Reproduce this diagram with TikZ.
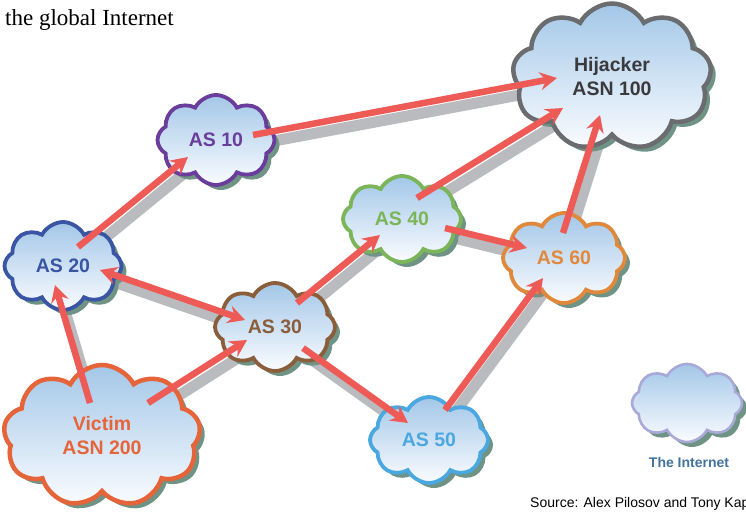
\documentclass[tikz,border=0pt]{standalone}
\usepackage{fontspec}
\setmainfont{Liberation Serif}
\newfontfamily\lblfont{Liberation Sans}
\usetikzlibrary{shapes.symbols,shadows,arrows.meta,calc}
\pgfdeclarelayer{bg}
\pgfsetlayers{bg,main}

\definecolor{cloudtop}{HTML}{A3C7E8}
\definecolor{cloudbot}{HTML}{FAFCFF}
\definecolor{shadowgreen}{HTML}{6F9384}
\definecolor{linkcol}{HTML}{B9BBBF}
\definecolor{routecol}{HTML}{EE5A56}
\definecolor{cAStenc}{HTML}{6A3D9C}
\definecolor{cAStwenty}{HTML}{3A55A4}
\definecolor{cASthirty}{HTML}{8A5D3B}
\definecolor{cASforty}{HTML}{7BB55A}
\definecolor{cASfifty}{HTML}{4AA7DF}
\definecolor{cASsixty}{HTML}{E0893D}
\definecolor{cHij}{HTML}{6B6C6F}
\definecolor{cHijText}{HTML}{3A3A3C}
\definecolor{cVic}{HTML}{E6643A}
\definecolor{cLegend}{HTML}{A9A9D8}
\definecolor{cLegendText}{HTML}{44729F}

\tikzset{
  ascloud/.style={cloud, cloud puffs=8, cloud puff arc=125, cloud ignores aspect,
    draw=#1, line width=3.8pt, top color=cloudtop, bottom color=cloudbot,
    general shadow={shadow xshift=5pt, shadow yshift=-5pt, fill=shadowgreen},
    text=#1, font=\lblfont\bfseries\fontsize{19.5}{24}\selectfont,
    align=center, inner sep=0pt},
  linkbar/.style={draw=linkcol, line width=11pt},
  route/.style={draw=routecol, line width=6.5pt},
  headfwd/.style={-{Stealth[length=17pt,width=18pt,inset=6pt]}},
  headtwo/.style={{Stealth[length=17pt,width=18pt,inset=6pt]}-{Stealth[length=17pt,width=18pt,inset=6pt]}},
}

% grey physical link under the clouds plus the red route arrow on top
\newcommand\routepair[5]{%
  \path ([shift={#2}]#1.center) coordinate (rp) ([shift={#4}]#3.center) coordinate (rq);
  \begin{pgfonlayer}{bg}
    \draw[linkbar] ($(rp)!-24pt!(rq)+(5,9)$) -- ($(rq)!-24pt!(rp)+(5,9)$);
  \end{pgfonlayer}
  \draw[route,#5] (rp) -- (rq);
}

\begin{document}
\begin{tikzpicture}[x=1pt,y=-1pt]
\useasboundingbox (0,0) rectangle (746,516);

% caption fragment
\node[anchor=base west, inner sep=0pt, font=\fontsize{23}{27}\selectfont] (cap) at (5,26) {the global Internet};

% autonomous systems
\node[ascloud=cAStenc, minimum width=117pt, minimum height=90pt] (as10) at (216,140) {AS 10};
\node[ascloud=cAStwenty, minimum width=117pt, minimum height=88pt] (as20) at (63,266) {AS 20};
\node[ascloud=cASthirty, minimum width=120pt, minimum height=88pt] (as30) at (275,327) {AS 30};
\node[ascloud=cASforty, minimum width=118pt, minimum height=86pt] (as40) at (402,219) {AS 40};
\node[ascloud=cASfifty, minimum width=118pt, minimum height=86pt] (as50) at (429,440) {AS 50};
\node[ascloud=cASsixty, minimum width=122pt, minimum height=90pt] (as60) at (564,258) {AS 60};
\node[ascloud=cHij, cloud puffs=9, line width=4.5pt, text=cHijText, minimum width=199pt, minimum height=147pt] (hij) at (612,77) {Hijacker\\ASN 100};
\node[ascloud=cVic, cloud puffs=9, line width=4.5pt, minimum width=197pt, minimum height=142pt] (vic) at (102,436) {Victim\\ASN 200};

% route propagation
\routepair{vic}{(-12,-33)}{as20}{(-8,19)}{headfwd}
\routepair{vic}{(46,-33)}{as30}{(-28,13)}{headfwd}
\routepair{as20}{(37,4)}{as30}{(-30,-7)}{headtwo}
\routepair{as20}{(15,-19)}{as10}{(-28,17)}{headfwd}
\routepair{as10}{(37,-5)}{hij}{(-55,1)}{headfwd}
\routepair{as40}{(15,-21)}{hij}{(-49,31)}{headfwd}
\routepair{as60}{(-1,-25)}{hij}{(-12,38)}{headfwd}
\routepair{as30}{(22,-24)}{as40}{(-22,16)}{headfwd}
\routepair{as40}{(43,9)}{as60}{(-37,-10)}{headfwd}
\routepair{as30}{(28,21)}{as50}{(-21,-17)}{headfwd}
\routepair{as50}{(16,-30)}{as60}{(-21,20)}{headfwd}

% legend
\node[ascloud=cLegend, line width=2.6pt, minimum width=110pt, minimum height=78pt] (legend) at (687,403) {};
\node[font=\lblfont\bfseries\fontsize{14}{16}\selectfont, text=cLegendText, inner sep=0pt] (legendtxt) at (689,462) {The Internet};

% credit line
\node[anchor=base west, inner sep=0pt, font=\lblfont\fontsize{14}{16}\selectfont] (credit) at (530,507) {Source: Alex Pilosov and Tony Kap};
\end{tikzpicture}
\end{document}
